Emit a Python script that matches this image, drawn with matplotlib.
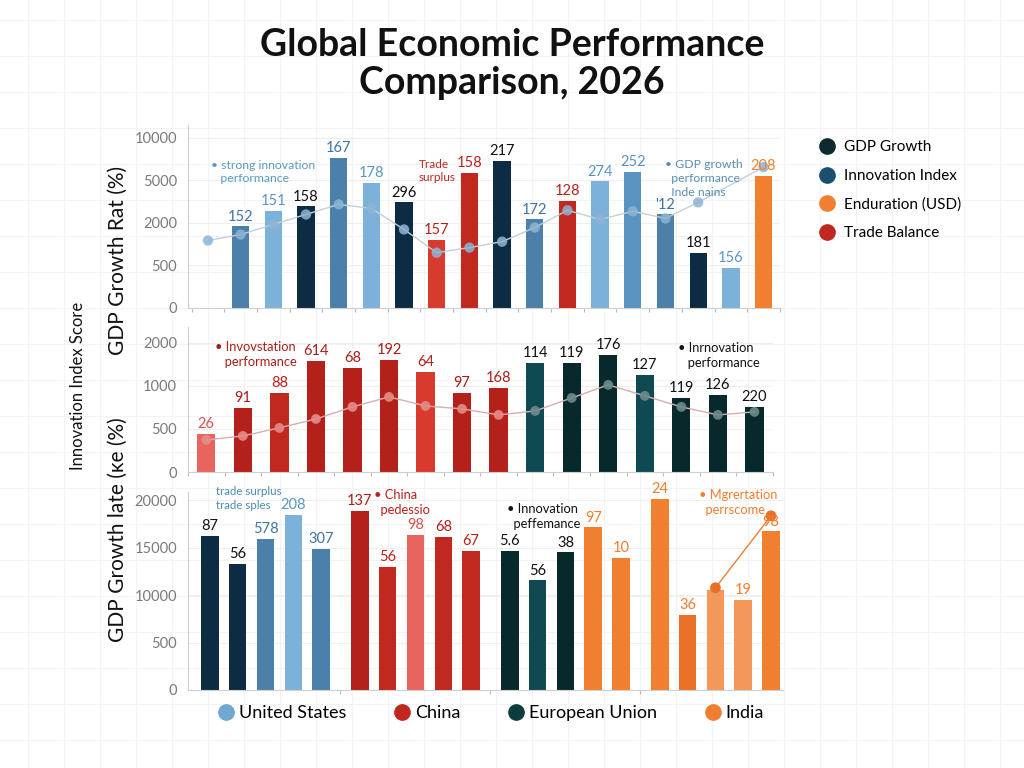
import numpy as np
import matplotlib
matplotlib.use("Agg")
import matplotlib.pyplot as plt
from matplotlib.lines import Line2D

plt.rcParams['font.family'] = ['Lato', 'DejaVu Sans']

# ---- data ----
# panel 1 : GDP growth
p1_ticks = [0, 500, 2000, 5000, 10000]
p1_bars = [None, 1875, 2840, 3170, 7635, 4805, 3455, 1415, 5850, 7280,
           2250, 3530, 4940, 5975, 2600, 950, 473, 5500]
p1_labels = ['', '152', '151', '158', '167', '178', '296', '157', '158', '217',
             '172', '128', '274', '252', "'12", '181', '156', '208']
p1_kind = ['', 'med', 'light', 'navy', 'med', 'light', 'navy', 'red2', 'red', 'navy',
           'med', 'red', 'light', 'med2', 'med', 'navy', 'light', 'orange']
p1_line = [1380, 1590, 1950, 2600, 3310, 3030, 1770, 950, 1130, 1340,
           1840, 2890, 2250, 2820, 2320, 3455, None, 6570]

# panel 2 : innovation index
p2_ticks = [0, 500, 1000, 2000]
p2_bars = [442, 744, 919, 1580, 1420, 1600, 1330, 919, 977,
           1535, 1535, 1720, 1256, 860, 895, 756]
p2_labels = ['26', '91', '88', '614', '68', '192', '64', '97', '168',
             '114', '119', '176', '127', '119', '126', '220']
p2_kind = ['lred', 'dred', 'red', 'dred', 'dred', 'dred', 'red2', 'dred', 'dred',
           'teal', 'dteal', 'dteal', 'teal', 'dteal', 'dteal', 'dteal']
p2_line = [372, 419, 512, 616, 756, 872, 767, 733, 663,
           709, 860, 1023, 884, 756, 663, 698]

# panel 3 : by country
p3_ticks = [0, 500, 10000, 15000, 20000]
p3_bars = [16265, 13300, 15935, 18460, 14835,
           18900, 12965, 16375, 16155, 14615,
           14615, 11540, 14500, 17140, 13950,
           20330, 6030, 10550, 8955, 16700]
p3_labels = ['87', '56', '578', '208', '307',
             '137', '56', '98', '68', '67',
             '5.6', '56', '38', '97', '10',
             '24', '36', '', '19', '98']
p3_kind = ['navy', 'navy', 'med', 'light', 'med',
           'dred', 'red', 'lred', 'red', 'red',
           'dteal', 'teal', 'dteal', 'orange', 'orange',
           'orange', 'dorange', 'lorange', 'lorange', 'orange']
p3_group = [5, 5, 5, 5]
p3_line_idx = [17, 19]
p3_line = [10770, 18350]

legend_right = ['GDP Growth', 'Innovation Index', 'Enduration (USD)', 'Trade Balance']
legend_bottom = ['United States', 'China', 'European Union', 'India']

# ---- styles ----
bar_col = {'med': '#4a80aa', 'med2': '#5b93c0', 'light': '#7cb1d9', 'navy': '#0e2b44',
           'red': '#c1281f', 'red2': '#d93a2e', 'dred': '#b4201a', 'lred': '#e9645e',
           'teal': '#0f4a52', 'dteal': '#08292c', 'orange': '#f07f2f',
           'dorange': '#ea7028', 'lorange': '#f4975a'}
lab_col = {'med': '#3f74a0', 'med2': '#5b93c0', 'light': '#5b96c0', 'navy': '#111111',
           'red': '#b8211a', 'red2': '#b8211a', 'dred': '#a81e18', 'lred': '#d9504a',
           'teal': '#111111', 'dteal': '#111111', 'orange': '#f07f2f',
           'dorange': '#f07f2f', 'lorange': '#f07f2f'}


def set_scale(ax, ticks, top):
    anchors = list(ticks) + [ticks[-1] * 1.5]
    pos = np.arange(len(anchors))
    ax.set_yscale('function', functions=(lambda v: np.interp(v, anchors, pos),
                                         lambda p: np.interp(p, pos, anchors)))
    ax.set_yticks(ticks)
    ax.set_yticklabels([str(t) for t in ticks])
    ax.set_ylim(0, top)


def style(ax):
    for s in ['top', 'right']:
        ax.spines[s].set_visible(False)
    ax.spines['left'].set_color('#cfcfcf')
    ax.spines['bottom'].set_color('#cfcfcf')
    ax.tick_params(axis='y', colors='#cfcfcf', labelcolor='#7a7a7a', labelsize=10.5, length=0, pad=8)
    ax.tick_params(axis='x', colors='#bbbbbb', length=3, labelbottom=False)
    ax.grid(axis='y', color='#efefef', lw=0.8)
    ax.set_axisbelow(True)
    ax.patch.set_alpha(0)


def bars(ax, xs, vals, kinds, labels, width):
    for x, v, k, t in zip(xs, vals, kinds, labels):
        if v is None:
            continue
        ax.bar(x, v, width=width, color=bar_col[k], zorder=2)
        if t:
            ax.annotate(t, (x, v), xytext=(0, 2), textcoords='offset points',
                        ha='center', va='bottom', fontsize=10.5, color=lab_col[k], zorder=4)


def note(ax, x, y, s, color, size=8.8):
    ax.text(x, y, s, color=color, fontsize=size, ha='left', va='center', linespacing=1.3, zorder=5)


fig = plt.figure(figsize=(10.24, 7.68), dpi=100)

# faint background grid paper
bg = fig.add_axes([0, 0, 1, 1], zorder=-5)
bg.set_xlim(0, 1024)
bg.set_ylim(768, 0)
bg.set_xticks(np.arange(28, 1024, 36))
bg.set_yticks(np.arange(20, 768, 36))
bg.grid(color='#f3f3f3', lw=0.8)
bg.tick_params(length=0, labelbottom=False, labelleft=False)
for s in bg.spines.values():
    s.set_visible(False)

# ---- panel 1 ----
ax1 = fig.add_axes([0.1836, 0.599, 0.578, 0.238])
x1 = np.arange(len(p1_bars))
bars(ax1, x1, p1_bars, p1_kind, p1_labels, 0.53)
lx = [x for x, v in zip(x1, p1_line) if v is not None]
ly = [v for v in p1_line if v is not None]
ax1.plot(lx, ly, color='#c2d0dc', lw=1.0, zorder=3)
ax1.scatter(lx, ly, s=55, color='#8fb4d2', alpha=0.85, zorder=3, edgecolor='none')
set_scale(ax1, p1_ticks, 11500)
ax1.set_xlim(-0.61, 17.43)
ax1.set_xticks(np.arange(-0.5, len(p1_bars), 1.0))
style(ax1)
note(ax1, 0.1, 6000, '• strong innovation\n   performance', '#5b9bc0')
note(ax1, 6.45, 6100, 'Trade\nsurplus', '#c0281f', 8.5)
note(ax1, 14.0, 5250, '• GDP growth\n  performance\n  Inde nains', '#5b8fb0')

# ---- panel 2 ----
ax2 = fig.add_axes([0.1836, 0.3854, 0.571, 0.189])
x2 = np.arange(len(p2_bars))
bars(ax2, x2, p2_bars, p2_kind, p2_labels, 0.5)
pt_col = ['#e58a88' if k in ('lred', 'red', 'dred', 'red2') else '#6f8b8b' for k in p2_kind]
ax2.plot(x2, p2_line, color='#d9aeb0', lw=1.0, zorder=3)
ax2.scatter(x2, p2_line, s=50, color=pt_col, alpha=0.9, zorder=3, edgecolor='none')
set_scale(ax2, p2_ticks, 2370)
ax2.set_xlim(-0.49, 15.49)
ax2.set_xticks(np.arange(-0.5, len(p2_bars), 1.0))
style(ax2)
note(ax2, 0.25, 1720, '• Invovstation\n   performance', '#a3201a', 9.3)
note(ax2, 12.9, 1700, '• Inrnovation\n   performance', '#111111', 9.3)

# ---- panel 3 ----
ax3 = fig.add_axes([0.1836, 0.1016, 0.581, 0.258])
gap = 0.4
x3 = np.concatenate([np.arange(n) + sum(p3_group[:i]) + gap * i for i, n in enumerate(p3_group)])
bars(ax3, x3, p3_bars, p3_kind, p3_labels, 0.63)
ax3.plot(x3[p3_line_idx], p3_line, color='#f07f2f', lw=1.0, zorder=3)
ax3.scatter(x3[p3_line_idx], p3_line, s=60, color='#e8702a', zorder=3, edgecolor='none')
set_scale(ax3, p3_ticks, 21750)
ax3.set_xlim(-0.79, x3[-1] + 0.43)
ax3.set_xticks([x3[4] + 0.7, x3[9] + 0.7, x3[14] + 0.7])
style(ax3)
note(ax3, 0.2, 20300, 'trade surplus\ntrade sples', '#4a8ab5', 8.3)
note(ax3, x3[5] + 0.5, 19800, '• China\n  pedessio', '#b8211a', 9.3)
note(ax3, x3[10] - 0.1, 18300, '• Innovation\n  peffemance', '#111111', 9.3)
note(ax3, x3[16] + 0.4, 19800, '• Mgrertation\n  perrscome', '#f07f2f', 9.3)

# ---- axis titles ----
fig.text(118 / 1024, 1 - 260 / 768, 'GDP Growth Rat (%)', rotation=90, ha='center', va='center',
         fontsize=15, color='#111111')
fig.text(118 / 1024, 1 - 530 / 768, 'GDP Growth late (κe (%)', rotation=90, ha='center', va='center',
         fontsize=15, color='#111111')
fig.text(78 / 1024, 1 - 386 / 768, 'Innovation Index Score', rotation=90, ha='center', va='center',
         fontsize=12, color='#111111')

# ---- title ----
fig.text(0.5, 1 - 64 / 768, 'Global Economic Performance\nComparison, 2026', ha='center', va='center',
         fontsize=27, fontweight='bold', color='#111111', linespacing=1.12)

# ---- legends ----
rcol = ['#0d2b2e', '#1b4f72', '#f07f2f', '#c0281f']
rh = [Line2D([], [], ls='none', marker='o', ms=11, color=c) for c in rcol]
fig.legend(rh, legend_right, loc='upper left', bbox_to_anchor=(0.787, 0.835), frameon=False,
           fontsize=11, labelspacing=0.95, handlelength=1.0, handletextpad=0.6)

bcol = ['#6fa8d0', '#c0281f', '#0b3d3f', '#f07f2f']
bh = [Line2D([], [], ls='none', marker='o', ms=11, color=c) for c in bcol]
fig.legend(bh, legend_bottom, loc='center', bbox_to_anchor=(0.48, 1 - 713 / 768), frameon=False,
           ncol=4, fontsize=13, columnspacing=2.7, handlelength=0.8, handletextpad=0.3)

fig.savefig('out.png', dpi=100)
